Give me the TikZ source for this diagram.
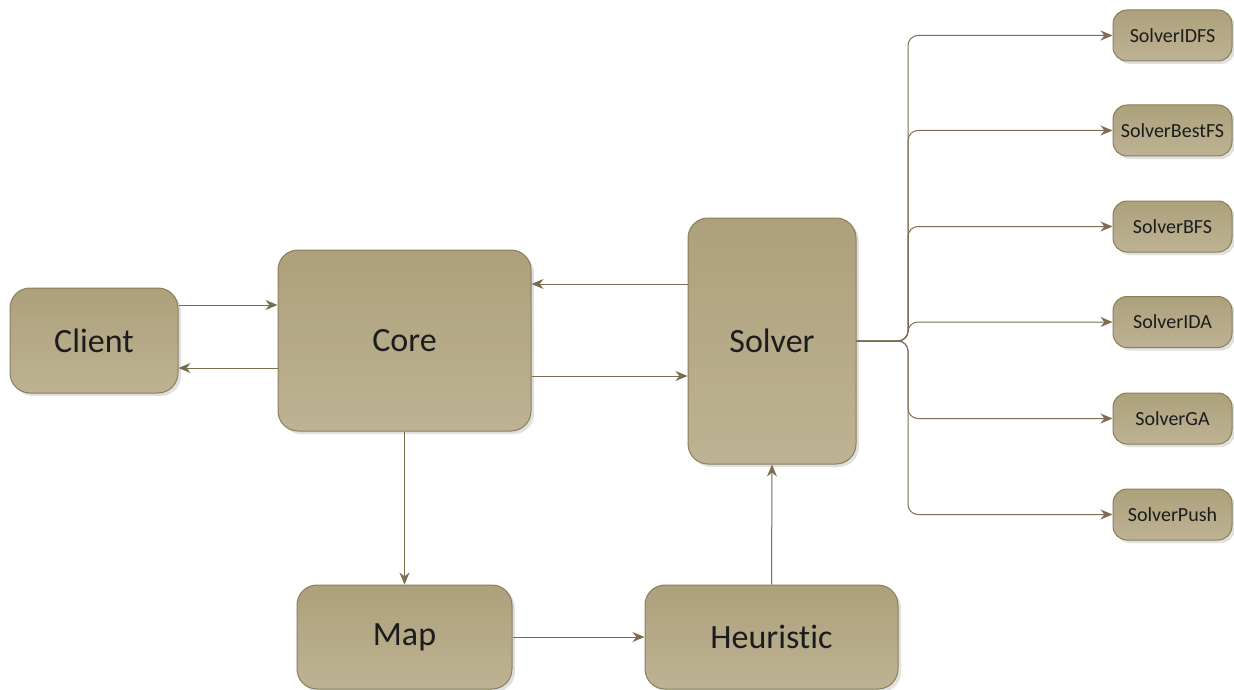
\documentclass[tikz,border=0pt]{standalone}
\usepackage{fontspec}
\setmainfont[Ligatures=NoCommon]{Carlito}
\usetikzlibrary{arrows.meta,shadows}
\definecolor{boxtop}{HTML}{ADA17C}
\definecolor{boxbot}{HTML}{BDB293}
\definecolor{boxline}{HTML}{8A7E5A}
\definecolor{wire}{HTML}{7A6E4F}
\definecolor{ink}{HTML}{1C1C1C}
\tikzset{
  boxbase/.style={draw=boxline, line width=1pt,
    top color=boxtop, bottom color=boxbot, text=ink,
    drop shadow={shadow xshift=3pt, shadow yshift=-3pt, opacity=0.2, fill=black!60},
    inner sep=0pt},
  bigbox/.style={boxbase, rounded corners=20pt, font=\fontsize{34}{40}\selectfont},
  smallbox/.style={boxbase, rounded corners=14pt, minimum width=119pt, minimum height=51pt,
    font=\fontsize{20}{24}\selectfont},
  conn/.style={draw=wire, line width=1pt, -{Stealth[length=12pt,width=10pt]}},
}
\begin{document}
\begin{tikzpicture}[x=1pt,y=-1pt]
\useasboundingbox (0,0) rectangle (1234,690);

% main components
\node[bigbox, minimum width=168pt, minimum height=105pt] (client) at (94,340.5) {Client};
\node[bigbox, minimum width=253pt, minimum height=181pt] (core) at (404.5,340.5) {Core};
\node[bigbox, minimum width=168pt, minimum height=246pt] (solver) at (772,341) {Solver};
\node[bigbox, minimum width=215pt, minimum height=104pt] (map) at (404.5,637) {Map};
\node[bigbox, minimum width=253pt, minimum height=104pt] (heur) at (771.5,637) {Heuristic};

% solver implementations
\node[smallbox] (s1) at (1172.5,35.5) {SolverIDFS};
\node[smallbox] (s2) at (1172.5,130.5) {SolverBestFS};
\node[smallbox] (s3) at (1172.5,226.5) {SolverBFS};
\node[smallbox] (s4) at (1172.5,322) {SolverIDA};
\node[smallbox] (s5) at (1172.5,418.5) {SolverGA};
\node[smallbox] (s6) at (1172.5,514.5) {SolverPush};

% connections between main components
\draw[conn] (client.east |- 0,305) -- (core.west |- 0,305);
\draw[conn] (core.west |- 0,368) -- (client.east |- 0,368);
\draw[conn] (solver.west |- 0,284) -- (core.east |- 0,284);
\draw[conn] (core.east |- 0,376) -- (solver.west |- 0,376);
\draw[conn] (core.south) -- (map.north);
\draw[conn] (map.east) -- (heur.west);
\draw[conn] (heur.north) -- (solver.south);

% branching to implementations
\coordinate (fork) at (908,341);
\foreach \s in {s1,s2,s3,s4,s5,s6}{
  \draw[conn, rounded corners=10pt] (solver.east) -- (fork) -- (fork |- \s.west) -- (\s.west);
}
\end{tikzpicture}
\end{document}
